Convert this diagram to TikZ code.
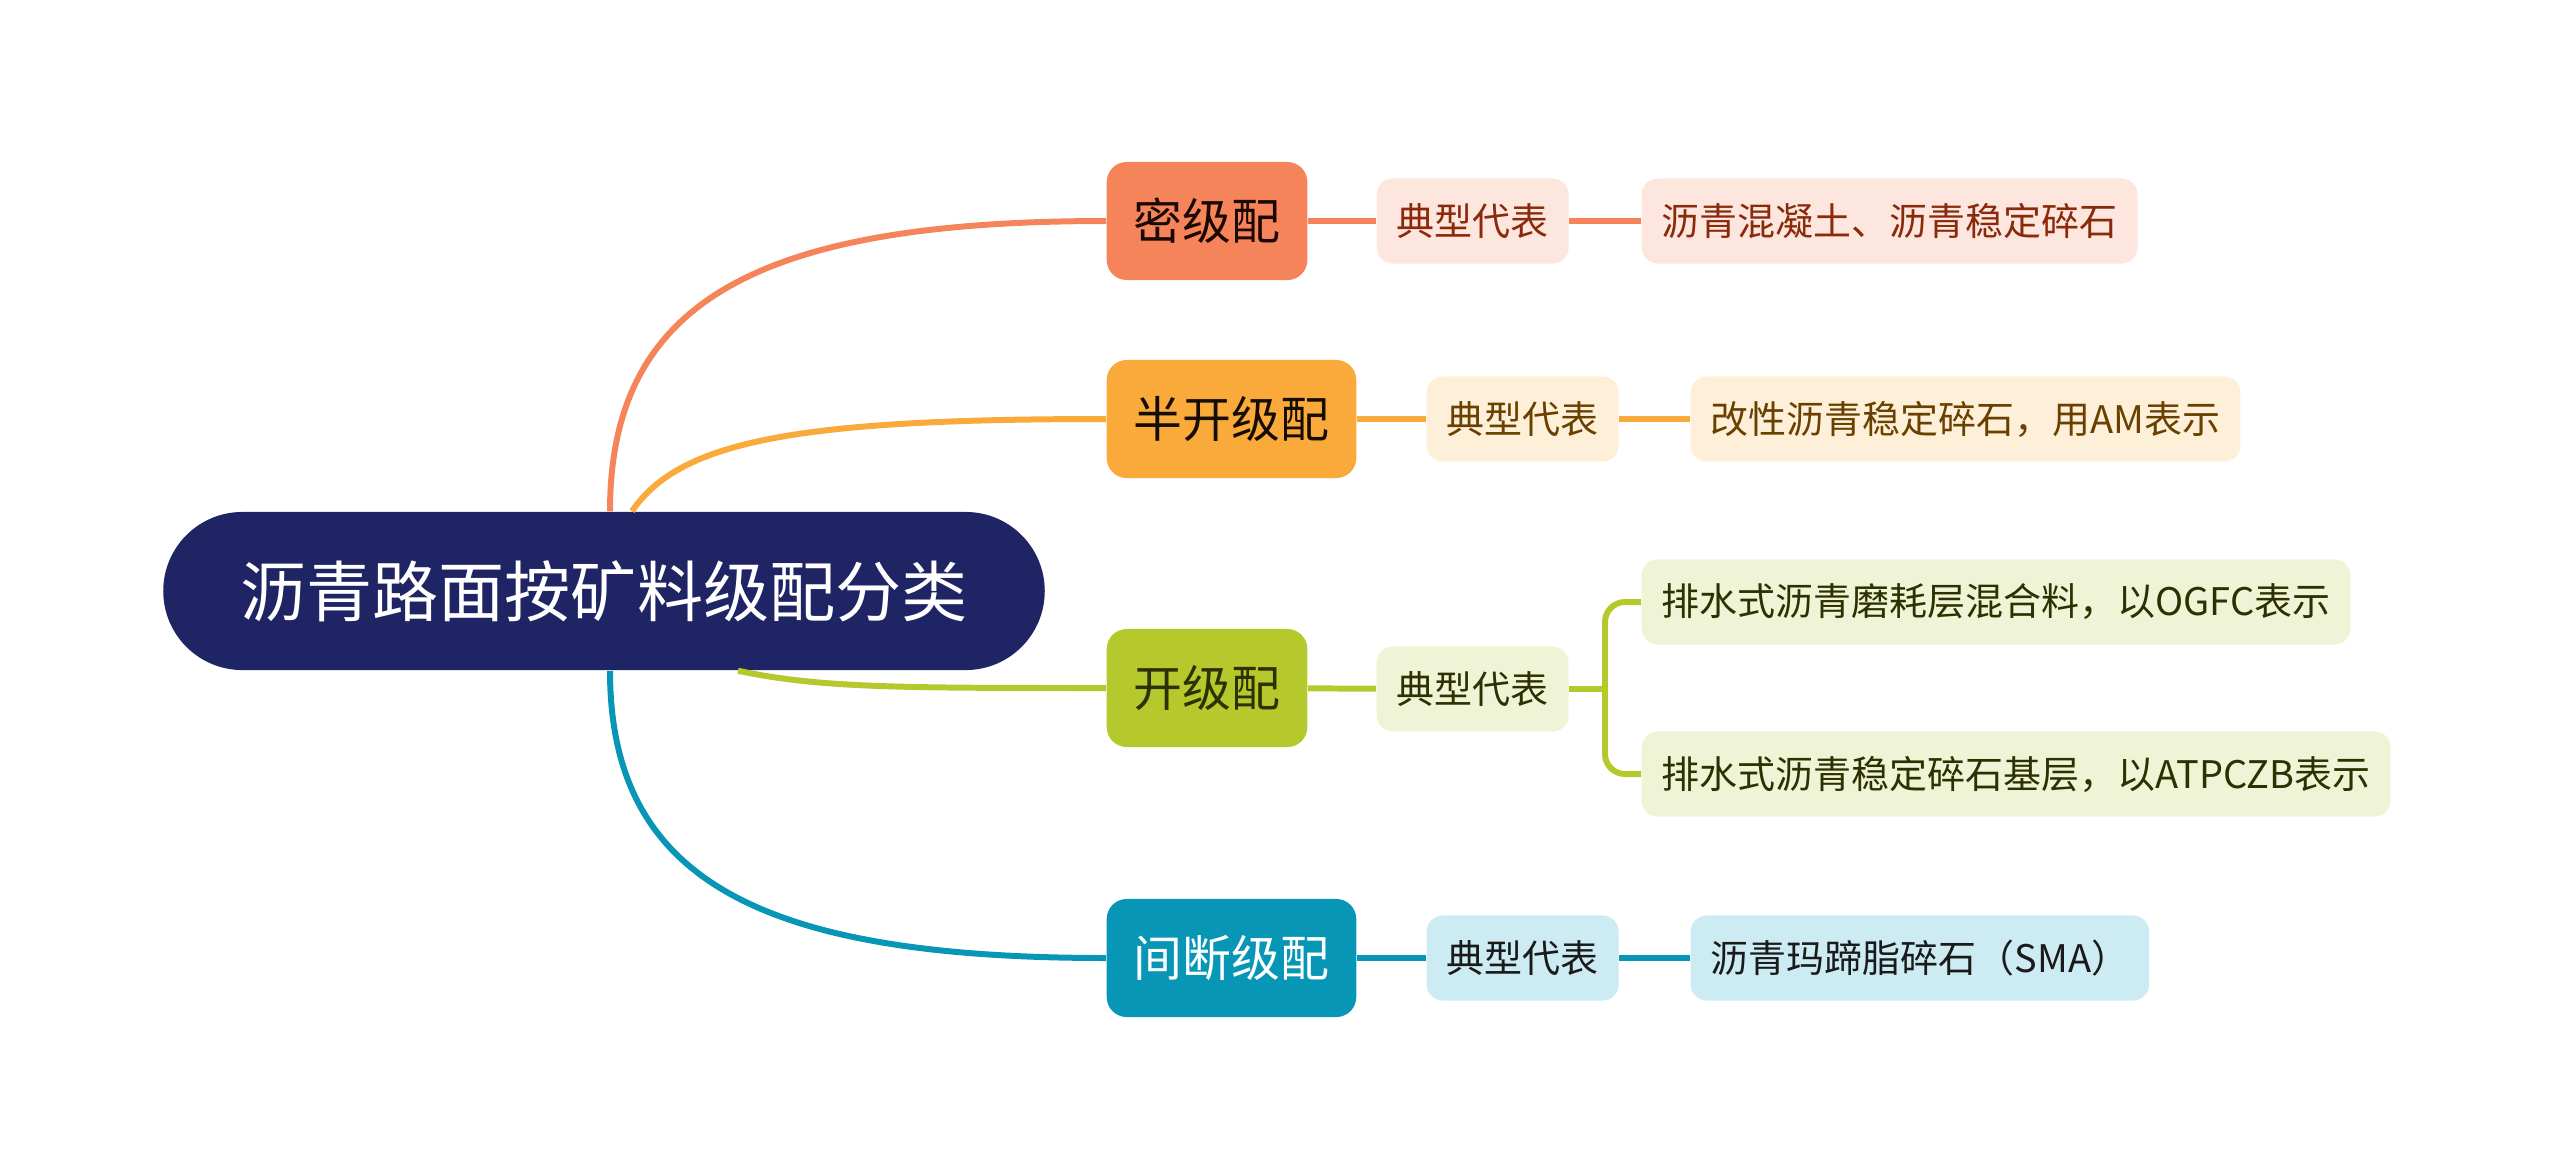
\documentclass[tikz,border=0pt]{standalone}
\usepackage{fontspec}
\setmainfont{Noto Sans CJK SC}
\usetikzlibrary{calc}

\definecolor{rootblue}{HTML}{1F2465}
\definecolor{densec}{HTML}{F6845A}
\definecolor{densel}{HTML}{FDE6DD}
\definecolor{denset}{HTML}{8A2A0B}
\definecolor{semic}{HTML}{FAAA3A}
\definecolor{semil}{HTML}{FEF0D8}
\definecolor{semit}{HTML}{6A4000}
\definecolor{openc}{HTML}{B6C92C}
\definecolor{openl}{HTML}{EFF4D6}
\definecolor{opent}{HTML}{2D3000}
\definecolor{gapc}{HTML}{0796B6}
\definecolor{gapl}{HTML}{CDEBF3}
\definecolor{gapt}{HTML}{1A1A1A}

\tikzset{
  rootbox/.style={fill=rootblue, text=white, rounded corners=0.79cm,
    minimum width=8.81cm, minimum height=1.58cm,
    font=\fontsize{18.8pt}{22pt}\selectfont},
  mainbox/.style={rounded corners=0.2cm, minimum height=1.18cm, inner xsep=0.27cm,
    anchor=west, font=\fontsize{13.9pt}{16pt}\selectfont},
  subbox/.style={rounded corners=0.16cm, minimum height=0.85cm, inner xsep=0.2cm,
    anchor=west, font=\fontsize{10.8pt}{13pt}\selectfont},
  link/.style={line width=1.7pt},
}

\begin{document}
\begin{tikzpicture}[x=0.01cm,y=-0.01cm]
\useasboundingbox (0,0) rectangle (2560,1175);

% root
\node[rootbox] (root) at (604,591) {沥青路面按矿料级配分类};

% dense graded
\node[mainbox, fill=densec, text=black!80!denset] (dense) at (1106,221) {密级配};
\node[subbox, fill=densel, text=denset] (denserep) at (1376,221) {典型代表};
\node[subbox, fill=densel, text=denset] (denseex) at (1641,221) {沥青混凝土、沥青稳定碎石};

% semi-open graded
\node[mainbox, fill=semic, text=black!80!semit] (semi) at (1106,419) {半开级配};
\node[subbox, fill=semil, text=semit] (semirep) at (1426,419) {典型代表};
\node[subbox, fill=semil, text=semit] (semiex) at (1690,419) {改性沥青稳定碎石，用AM表示};

% open graded
\node[mainbox, fill=openc, text=opent] (open) at (1106,688) {开级配};
\node[subbox, fill=openl, text=opent] (openrep) at (1376,689) {典型代表};
\node[subbox, fill=openl, text=opent] (openexa) at (1641,602) {排水式沥青磨耗层混合料，以OGFC表示};
\node[subbox, fill=openl, text=opent] (openexb) at (1641,774) {排水式沥青稳定碎石基层，以ATPCZB表示};
\coordinate (openfork) at (1605,689);

% gap graded
\node[mainbox, fill=gapc, text=white] (gap) at (1106,958) {间断级配};
\node[subbox, fill=gapl, text=gapt] (gaprep) at (1426,958) {典型代表};
\node[subbox, fill=gapl, text=gapt] (gapex) at (1690,958) {沥青玛蹄脂碎石（SMA）};

% root to branches
\draw[link, densec] ($(root.north)+(6,0)$) .. controls (610,300) and (760,221) .. (dense.west);
\draw[link, semic] ($(root.north)+(28,0)$) .. controls (680,440) and (800,419) .. (semi.west);
\draw[link, openc] ($(root.south)+(134,0)$) .. controls (820,688) and (900,688) .. (open.west);
\draw[link, gapc] ($(root.south)+(6,0)$) .. controls (610,880) and (760,958) .. (gap.west);

% branches to examples
\draw[link, densec] (dense) -- (denserep);
\draw[link, densec] (denserep) -- (denseex);
\draw[link, semic] (semi) -- (semirep);
\draw[link, semic] (semirep) -- (semiex);
\draw[link, openc] (open) -- (openrep);
\draw[link, openc] (openrep.east) -- (openfork);
\draw[link, openc, rounded corners=0.2cm] (openexa.west) -| (openfork) |- (openexb.west);
\draw[link, gapc] (gap) -- (gaprep);
\draw[link, gapc] (gaprep) -- (gapex);
\end{tikzpicture}
\end{document}
